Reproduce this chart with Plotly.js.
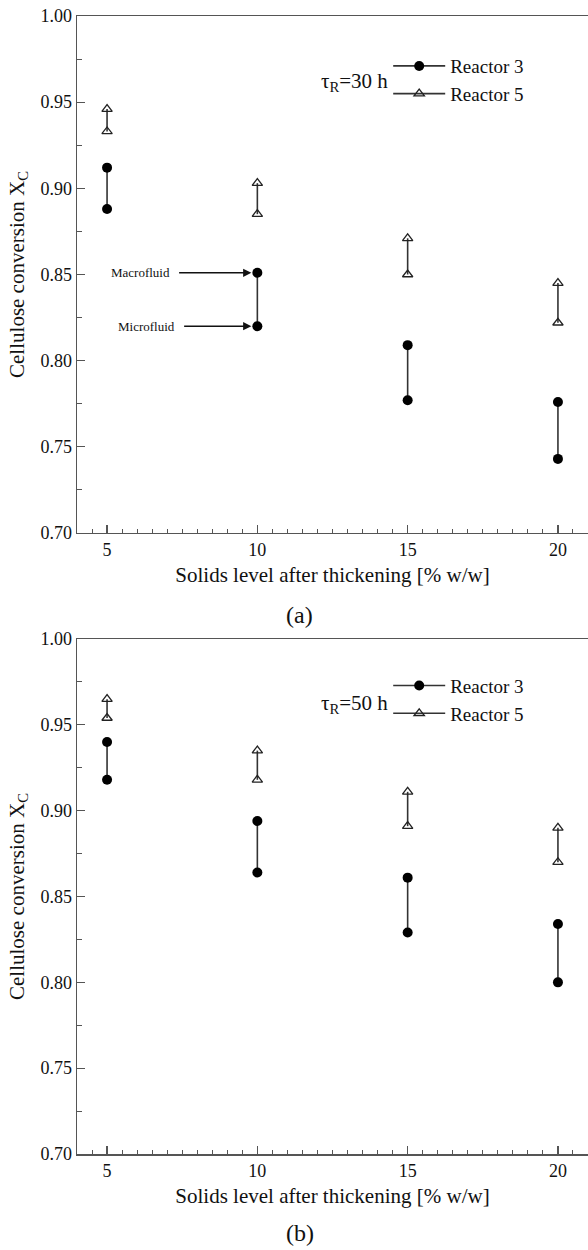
<!DOCTYPE html>
<html>
<head>
<meta charset="utf-8">
<script src="https://cdn.plot.ly/plotly-3.0.1.min.js"></script>
<style>html,body{margin:0;padding:0;background:#fff;}#chart{width:588px;height:1250px;}</style>
</head>
<body>
<div id="chart"></div>
<script>
// Solids level after thickening [% w/w]
const solids = [5, 10, 15, 20];
// tau_R = 30 h
const r3Macro30 = [0.912, 0.851, 0.809, 0.776];
const r3Micro30 = [0.888, 0.820, 0.777, 0.743];
const r5Macro30 = [0.946, 0.903, 0.871, 0.845];
const r5Micro30 = [0.933, 0.885, 0.850, 0.822];
// tau_R = 50 h
const r3Macro50 = [0.940, 0.894, 0.861, 0.834];
const r3Micro50 = [0.918, 0.864, 0.829, 0.800];
const r5Macro50 = [0.965, 0.935, 0.911, 0.890];
const r5Micro50 = [0.954, 0.918, 0.891, 0.870];
const xTicks = [5, 10, 15, 20];
const yTicks = [0.70, 0.75, 0.80, 0.85, 0.90, 0.95, 1.00];

function pairs(xs, hi, lo) {
  const x = [], y = [];
  xs.forEach((v, i) => { x.push(v, v, null); y.push(hi[i], lo[i], null); });
  return {x, y};
}
const serif = 'Times New Roman';
const lineCol = '#333';
function tr(p, name, xa, ya, leg, tri) {
  return {
    x: p.x, y: p.y, xaxis: xa, yaxis: ya, name: name, legend: leg,
    mode: 'lines+markers', connectgaps: false,
    line: {color: lineCol, width: 1.6},
    marker: tri ? {symbol: 'triangle-up-open', size: 9, color: '#222', line: {width: 1.3, color: '#222'}}
                : {symbol: 'circle', size: 10, color: '#000'}
  };
}
const data = [
  tr(pairs(solids, r3Macro30, r3Micro30), 'Reactor 3', 'x', 'y', 'legend', false),
  tr(pairs(solids, r5Macro30, r5Micro30), 'Reactor 5', 'x', 'y', 'legend', true),
  tr(pairs(solids, r3Macro50, r3Micro50), 'Reactor 3', 'x2', 'y2', 'legend2', false),
  tr(pairs(solids, r5Macro50, r5Micro50), 'Reactor 5', 'x2', 'y2', 'legend2', true)
];

function xax(anchor) {
  return {
    anchor: anchor, range: [4, 21], tickvals: xTicks, ticktext: xTicks.map(String),
    ticks: 'inside', ticklen: 8, tickwidth: 1.2, tickcolor: '#555',
    minor: {dtick: 0.5, tick0: 0, ticks: 'inside', ticklen: 4, tickwidth: 1, tickcolor: '#555'},
    showline: true, linecolor: '#555', linewidth: 1.5, mirror: true,
    showgrid: false, zeroline: false,
    tickfont: {family: serif, size: 18, color: '#111'},
    title: {text: 'Solids level after thickening [% w/w]', font: {family: serif, size: 21, color: '#111'}, standoff: 8}
  };
}
function yax(anchor, dom) {
  return {
    anchor: anchor, domain: dom, range: [0.70, 1.00], tickvals: yTicks, tickformat: '.2f',
    ticks: 'inside', ticklen: 8, tickwidth: 1.2, tickcolor: '#555',
    minor: {dtick: 0.025, tick0: 0, ticks: 'inside', ticklen: 5, tickwidth: 1, tickcolor: '#555'},
    showline: true, linecolor: '#555', linewidth: 1.5, mirror: false,
    showgrid: false, zeroline: false,
    tickfont: {family: serif, size: 18, color: '#111'},
    title: {text: 'Cellulose conversion X<sub>C</sub>', font: {family: serif, size: 21, color: '#111'}, standoff: 10}
  };
}
const legFont = {family: serif, size: 19, color: '#111'};
const layout = {
  width: 588, height: 1250,
  margin: {l: 77, r: 0, t: 16, b: 96},
  paper_bgcolor: '#fff', plot_bgcolor: '#fff',
  showlegend: true,
  font: {family: serif},
  grid: {rows: 2, columns: 1, pattern: 'independent'},
  xaxis: xax('y'), yaxis: yax('x', [0.5457, 1]),
  xaxis2: xax('y2'), yaxis2: yax('x2', [0, 0.4525]),
  legend: {x: 0.609, y: 0.9727, xanchor: 'left', yanchor: 'top', bgcolor: 'rgba(0,0,0,0)', font: legFont, itemwidth: 52, tracegroupgap: 0},
  legend2: {x: 0.609, y: 0.4282, xanchor: 'left', yanchor: 'top', bgcolor: 'rgba(0,0,0,0)', font: legFont, itemwidth: 52, tracegroupgap: 0},
  annotations: [
    {xref: 'x domain', yref: 'y domain', x: 0.6125, y: 0.873, xanchor: 'right', yanchor: 'middle', showarrow: false,
     text: 'τ<sub>R</sub>=30 h', font: {family: serif, size: 21, color: '#111'}},
    {xref: 'x2 domain', yref: 'y2 domain', x: 0.6125, y: 0.874, xanchor: 'right', yanchor: 'middle', showarrow: false,
     text: 'τ<sub>R</sub>=50 h', font: {family: serif, size: 21, color: '#111'}},
    {xref: 'paper', yref: 'paper', x: 0.436, y: 0.4736, xanchor: 'center', yanchor: 'middle', showarrow: false,
     text: '(a)', font: {family: serif, size: 24, color: '#111'}},
    {xref: 'paper', yref: 'paper', x: 0.436, y: -0.0694, xanchor: 'center', yanchor: 'middle', showarrow: false,
     text: '(b)', font: {family: serif, size: 24, color: '#111'}},
    {xref: 'x', yref: 'y', x: solids[1], y: r3Macro30[1], axref: 'x', ayref: 'y', ax: 6.1, ay: r3Macro30[1],
     text: 'Macrofluid', font: {family: serif, size: 13, color: '#111'}, borderpad: 9,
     showarrow: true, arrowhead: 2, arrowsize: 1.1, arrowwidth: 1.5, arrowcolor: '#111', standoff: 6},
    {xref: 'x', yref: 'y', x: solids[1], y: r3Micro30[1], axref: 'x', ayref: 'y', ax: 6.3, ay: r3Micro30[1],
     text: 'Microfluid', font: {family: serif, size: 13, color: '#111'}, borderpad: 9,
     showarrow: true, arrowhead: 2, arrowsize: 1.1, arrowwidth: 1.5, arrowcolor: '#111', standoff: 6}
  ]
};
Plotly.newPlot('chart', data, layout, {displayModeBar: false, staticPlot: true});
</script>
</body>
</html>
